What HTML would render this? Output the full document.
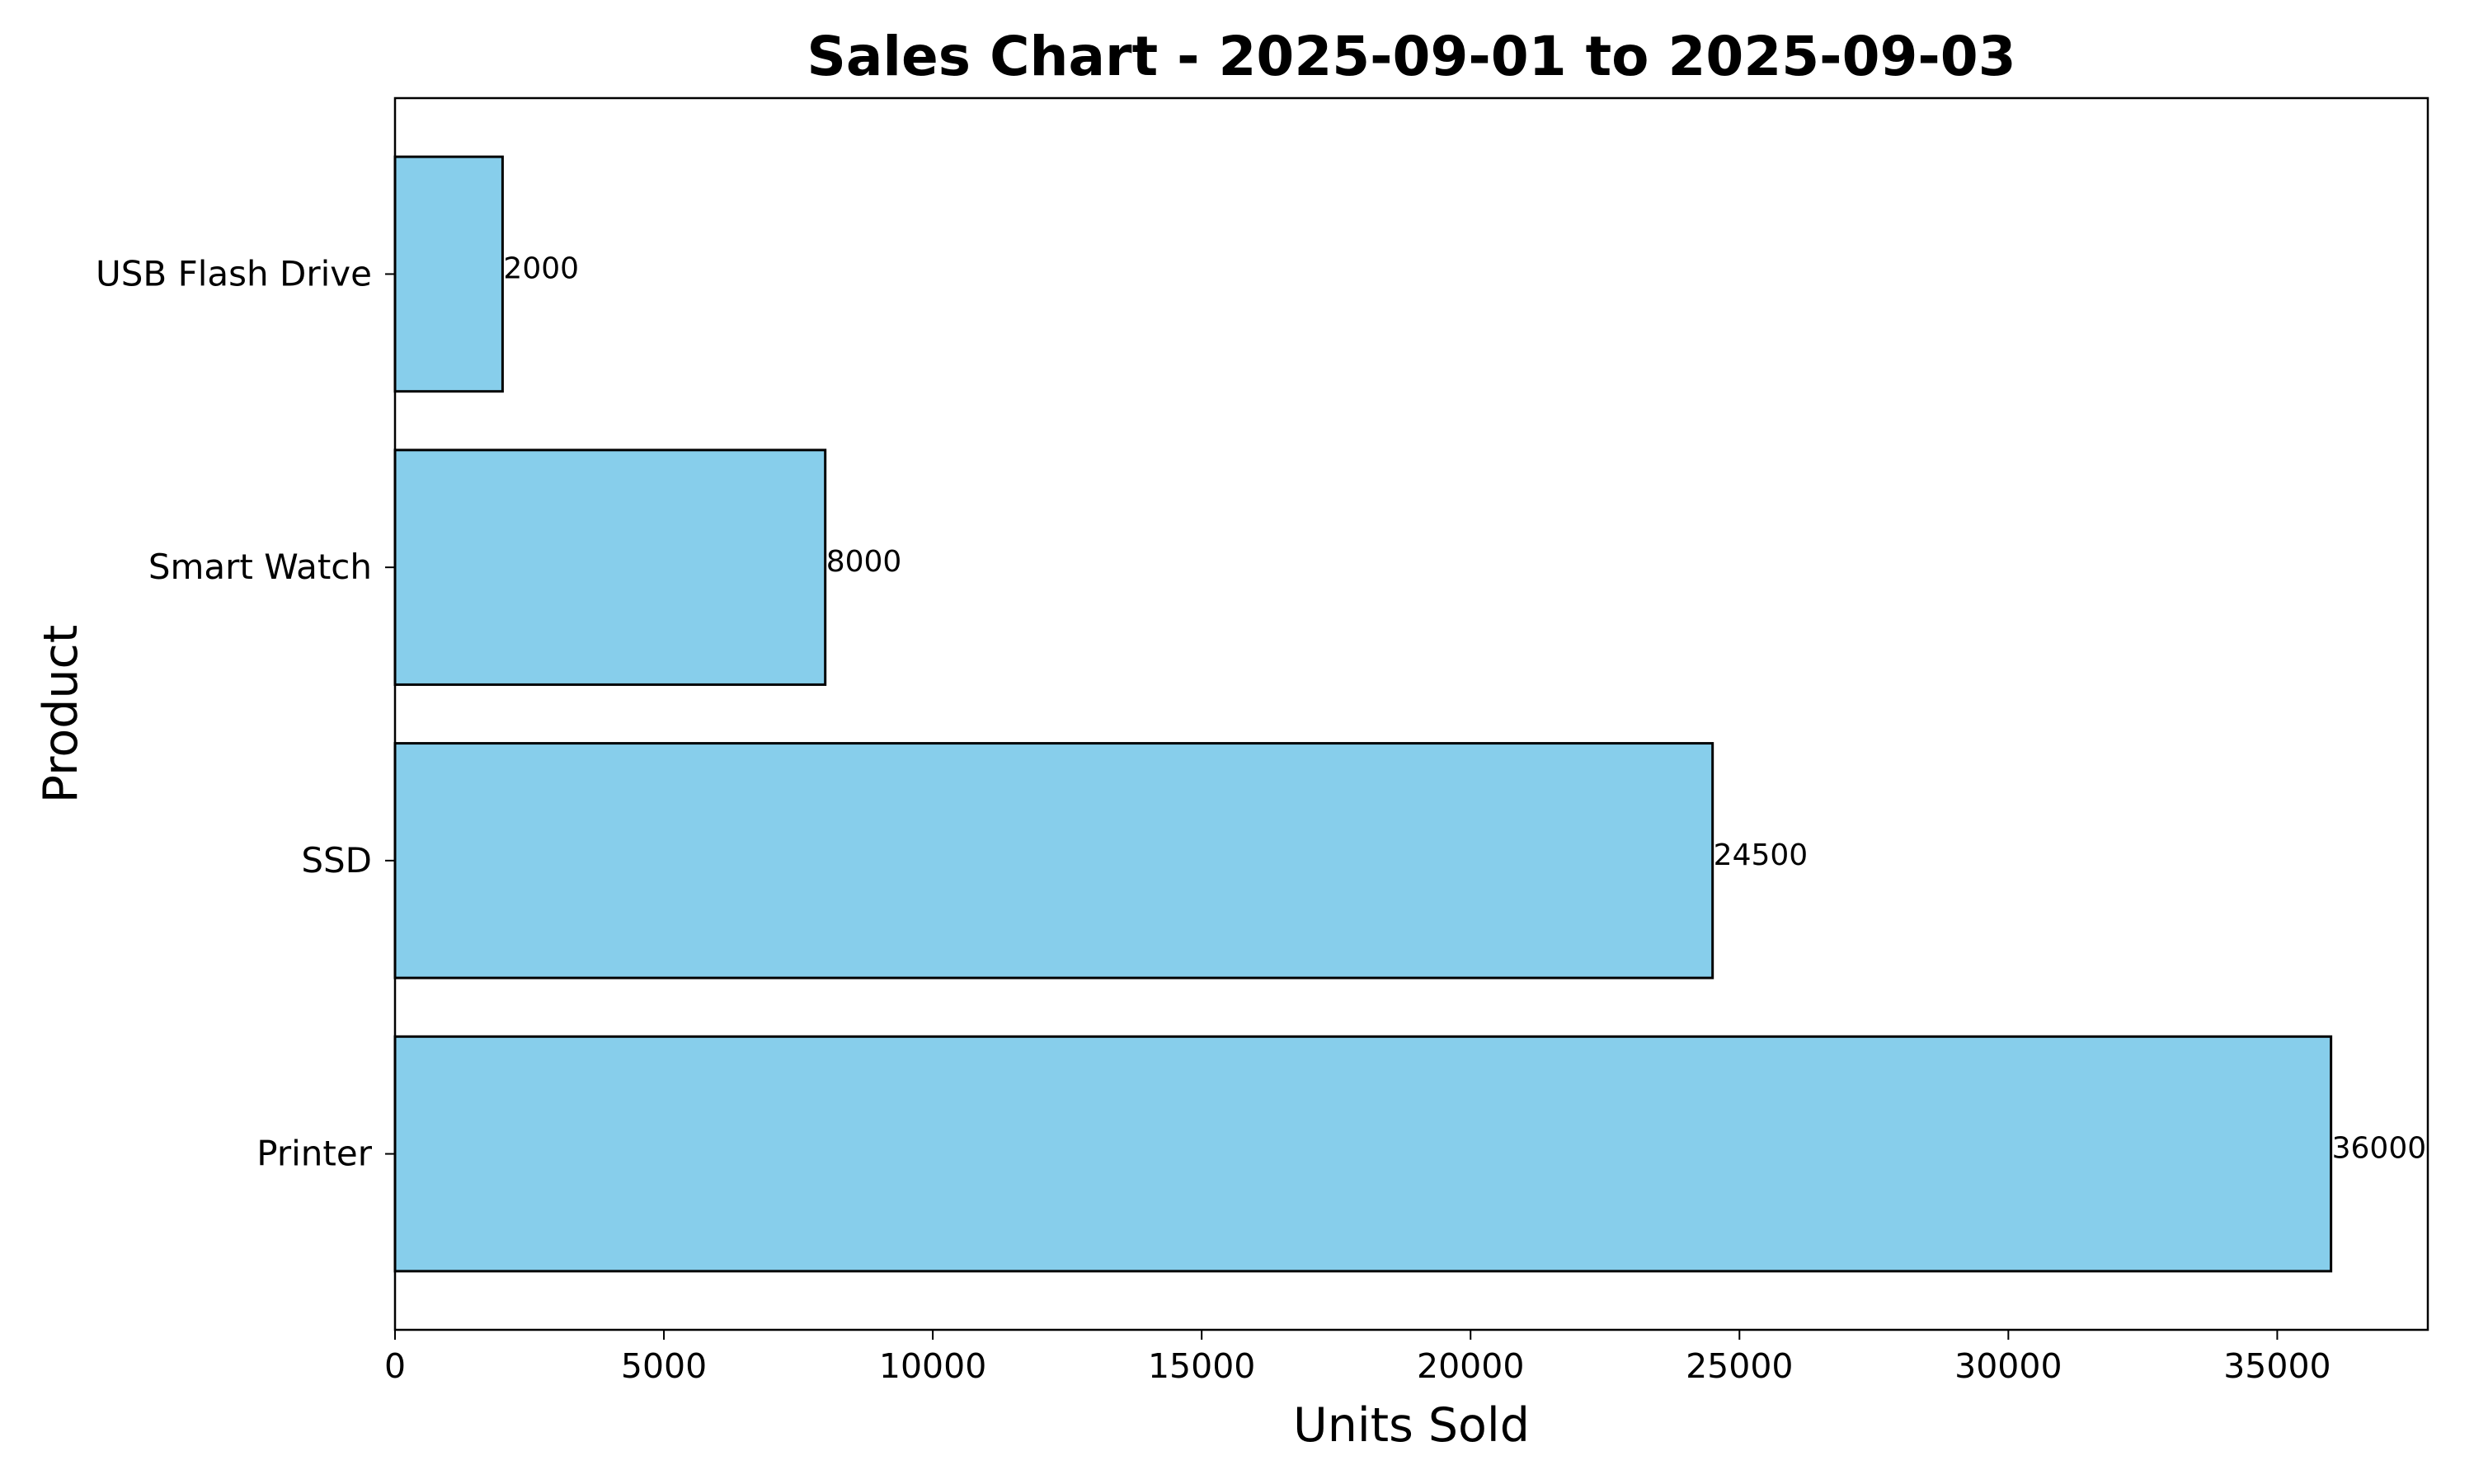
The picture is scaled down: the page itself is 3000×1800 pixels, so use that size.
<!DOCTYPE html>
<html><head><meta charset="utf-8"><style>html,body{margin:0;padding:0;background:#fff}svg{display:block}text{font-family:"DejaVu Sans","Liberation Sans",sans-serif}</style></head>
<body>
<svg id="chart" width="3000" height="1800" viewBox="0 0 3000 1800" xmlns="http://www.w3.org/2000/svg">
<rect width="3000" height="1800" fill="#fff"/>
<g id="plot"></g>
</svg>
<script>
const categories = ["Printer","SSD","Smart Watch","USB Flash Drive"];
const values = [36000,24500,8000,2000];
const xTicks = [0,5000,10000,15000,20000,25000,30000,35000];

const L=479,R=2944,T=119,B=1613;
const xMax = Math.max(...values)*1.05;
const yMin=-0.6, yMax=categories.length-1+0.6;
const xs=v=>L+(v/xMax)*(R-L);
const ys=v=>B-(v-yMin)/(yMax-yMin)*(B-T);
const NS="http://www.w3.org/2000/svg";
const g=document.getElementById('plot');
function mk(t,a,txt){const e=document.createElementNS(NS,t);for(const k in a)e.setAttribute(k,a[k]);if(txt!==undefined)e.textContent=txt;g.appendChild(e);return e;}

categories.forEach((c,i)=>{
  const y0=ys(i+0.4), y1=ys(i-0.4);
  const r=mk('rect',{x:xs(0),y:y0,width:xs(values[i])-xs(0),height:y1-y0,fill:'#87ceeb',stroke:'#000','stroke-width':3});
  
  
  const t=mk('text',{x:xs(values[i])+1,y:ys(i)+5,'font-size':36,fill:'#000'},String(values[i]));
  
  
  const tk=mk('line',{x1:L-12,x2:L,y1:ys(i),y2:ys(i),stroke:'#000','stroke-width':2});
  
  
  const yl=mk('text',{x:L-28,y:ys(i)+14,'font-size':42,'text-anchor':'end'},c);
  
  
});
xTicks.forEach(v=>{
  const tk=mk('line',{x1:xs(v),x2:xs(v),y1:B,y2:B+12,stroke:'#000','stroke-width':2});
  
  
  const xl=mk('text',{x:xs(v),y:B+58,'font-size':41,'text-anchor':'middle'},String(v));
  
  
});
const fr=mk('rect',{x:L,y:T,width:R-L,height:B-T,fill:'none',stroke:'#000','stroke-width':2.5});


const ti=mk('text',{x:(L+R)/2,y:91,'font-size':66,'font-weight':'bold','text-anchor':'middle'},'Sales Chart - 2025-09-01 to 2025-09-03');


const xt=mk('text',{x:(L+R)/2,y:1748,'font-size':57,'text-anchor':'middle'},'Units Sold');


const yt=mk('text',{x:0,y:0,'font-size':57,'text-anchor':'middle',transform:'translate(93,'+((T+B)/2)+') rotate(-90)'},'Product');


</script>
</body></html>
